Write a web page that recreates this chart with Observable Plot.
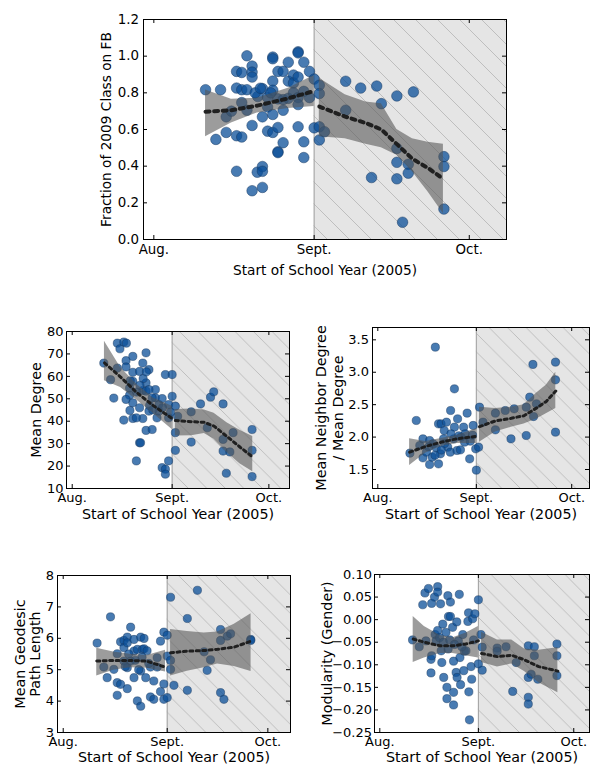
<!DOCTYPE html>
<html><head><meta charset="utf-8">
<script src="https://cdn.jsdelivr.net/npm/d3@7"></script>
<script src="https://cdn.jsdelivr.net/npm/@observablehq/plot@0.6"></script>
<style>
body{margin:0;background:#fff;}
#root{position:relative;width:590px;height:767px;overflow:hidden;background:#fff;}
.panel{position:absolute;}
.panel svg{max-width:none;display:block;}
</style></head><body><div id="root"></div>
<script>
// ---- shared axis data ----
const monthTicks = [0, 31, 61];            // days since Aug 1, 2005
const monthLabels = ["Aug.", "Sept.", "Oct."];
const schoolStart = 31;                    // Sept 1
const xTitle = "Start of School Year (2005)";

// ---- Panel 1: Fraction of 2009 class on FB ----
const fbTitle = "Fraction of 2009 Class on FB";
const fbTicks = [0, 0.2, 0.4, 0.6, 0.8, 1.0, 1.2];
const fbPoints = [[10.0,0.817],[12.9,0.817],[12.0,0.546],[14.0,0.584],[14.0,0.669],[15.0,0.70],[16.0,0.917],[17.0,0.911],[16.0,0.826],[17.0,0.817],[16.0,0.566],[17.0,0.559],[16.0,0.372],[17.0,0.747],[18.0,1.002],[18.0,0.817],[18.0,0.705],[19.0,0.946],[19.0,0.913],[19.0,0.886],[19.0,0.622],[19.0,0.266],[20.1,0.78],[20.0,0.367],[21.0,0.398],[21.0,0.372],[21.0,0.284],[21.0,0.823],[21.0,0.669],[22.0,0.591],[22.0,0.723],[22.0,0.774],[23.0,0.995],[23.0,0.986],[23.0,0.864],[23.0,0.814],[23.0,0.682],[23.0,0.584],[24.0,0.917],[24.0,0.611],[24.0,0.479],[24.0,0.474],[24.0,0.767],[25.0,0.917],[25.0,0.763],[25.0,0.705],[25.0,0.528],[26.0,0.967],[26.0,0.864],[26.0,0.770],[27.0,0.897],[27.0,0.854],[27.0,0.80],[27.9,1.024],[27.9,1.018],[27.9,0.886],[27.9,0.774],[27.9,0.736],[27.9,0.615],[29.0,0.967],[29.0,0.808],[29.0,0.533],[29.0,0.447],[30.1,0.917],[30.1,0.774],[31.0,0.875],[31.0,0.609],[32.0,0.841],[32.0,0.796],[32.0,0.615],[32.0,0.543],[33.0,0.588],[37.1,0.863],[37.1,0.705],[40.0,0.826],[43.1,0.837],[44.0,0.741],[42.1,0.338],[47.0,0.783],[47.0,0.497],[47.0,0.421],[47.0,0.331],[48.1,0.094],[49.2,0.410],[49.2,0.362],[50.2,0.805],[56.1,0.452],[56.1,0.398],[56.1,0.166],[19.6,0.80],[22.6,0.80],[20.6,0.825]];
const fbTrendSeg  = [0,0,0,0,0, 1,1,1,1,1,1,1,1];
const fbTrendDay  = [10,15,20,26,31, 32,37,41,44,47,50,53,56];
const fbTrendMean = [0.697,0.705,0.73,0.77,0.81, 0.725,0.67,0.635,0.60,0.52,0.44,0.39,0.33];
const fbTrendLo   = [0.56,0.635,0.69,0.715,0.725, 0.56,0.55,0.52,0.50,0.46,0.37,0.26,0.14];
const fbTrendHi   = [0.815,0.765,0.77,0.825,0.895, 0.88,0.79,0.75,0.74,0.60,0.55,0.53,0.52];

// ---- Panel 2: Mean Degree ----
const degTitle = "Mean Degree";
const degTicks = [10, 20, 30, 40, 50, 60, 70, 80];
const degPoints = [[9.8,65.9],[11.9,58.5],[12.9,50.3],[14.0,74.8],[14.8,72.3],[16.0,75.3],[16.8,74.8],[14.0,63.7],[16.0,40.5],[16.7,67.0],[16.7,64.2],[17.8,54.8],[17.8,51.6],[16.7,49.7],[17.9,44.8],[18.8,68.9],[18.8,61.8],[18.8,57.8],[18.8,48.2],[18.8,41.2],[19.9,22.3],[20.9,62.2],[20.9,30.4],[21.2,30.4],[20.9,46.0],[21.9,65.9],[21.9,53.7],[21.9,41.2],[22.9,70.5],[22.9,57.1],[22.9,53.4],[22.9,35.9],[23.8,63.0],[23.8,44.5],[24.8,36.3],[25.8,54.1],[25.8,50.4],[26.3,41.5],[26.9,47.4],[26.9,44.5],[27.9,50.1],[27.9,19.3],[28.9,18.6],[28.9,16.4],[28.9,60.8],[29.9,22.3],[29.9,47.4],[29.9,41.5],[31.0,60.8],[31.0,51.1],[32.0,46.7],[32.0,34.9],[32.0,27.0],[32.7,42.2],[36.9,44.2],[36.9,30.7],[39.8,47.7],[41.9,37.1],[42.9,50.7],[43.9,53.1],[46.8,47.7],[46.8,31.9],[46.8,26.7],[47.8,16.8],[48.9,26.3],[49.9,34.9],[55.8,36.3],[55.8,27.0],[55.8,15.3],[19.9,41.5],[23.8,54.1],[24.8,50.4],[22.0,59.0],[24.0,47.0],[20.0,53.0],[25.0,45.0],[23.0,62.0],[28.0,46.0],[30.5,44.0],[18.0,58.0],[21.0,56.0]];
const degTrendSeg  = [0,0,0,0,0, 1,1,1,1,1,1,1];
const degTrendDay  = [10,15,20,25,31, 32,37,41,44,48,52,56];
const degTrendMean = [66,59.7,52.8,47.1,41.2, 40.3,39.8,39.5,37.8,33.2,28.5,24];
const degTrendLo   = [58,55,49.5,43.5,36.3, 33.4,33.5,34.5,32,26,21,17.5];
const degTrendHi   = [75.6,64,56.5,50.5,46.7, 45.2,45.5,45,43.5,39.3,36,33.2];

// ---- Panel 3: Mean neighbor degree / mean degree ----
const ratioTitle = "Mean Neighbor Degree\n/ Mean Degree";
const ratioTicks = [1.5, 2.0, 2.5, 3.0, 3.5];
const ratioPoints = [[10.1,1.752],[12.1,2.256],[13.2,1.870],[14.2,1.973],[14.2,1.680],[15.3,1.767],[16.3,1.577],[16.3,1.947],[17.1,1.690],[17.4,1.896],[18.1,3.387],[18.4,1.834],[19.1,2.204],[19.1,1.587],[19.7,1.742],[19.9,2.204],[20.7,1.973],[20.9,2.101],[21.6,2.230],[22.0,1.844],[22.8,1.767],[22.9,2.41],[23.9,1.973],[24.1,2.744],[24.1,2.153],[24.9,1.793],[25.1,2.281],[26.0,1.803],[26.2,1.999],[27.0,2.153],[27.3,1.922],[28.1,2.369],[28.9,1.664],[29.1,1.937],[30.0,2.179],[30.8,1.819],[31.0,1.490],[31.7,1.845],[32.0,2.461],[33.1,2.230],[37.0,2.369],[37.0,2.112],[40.1,2.410],[41.9,1.973],[42.9,2.436],[46.7,2.024],[46.7,2.461],[47.8,2.616],[48.8,3.120],[49.0,2.317],[49.9,2.513],[55.9,3.156],[55.9,2.883],[55.9,2.076],[16.0,1.85],[18.0,1.72],[21.0,1.90],[23.0,2.05],[25.5,2.02],[27.5,2.05],[20.0,1.80],[29.8,2.03]];
const ratioTrendSeg  = [0,0,0,0,0, 1,1,1,1,1,1,1];
const ratioTrendDay  = [10,15,20,25,31, 32,37,42,46,50,53,56];
const ratioTrendMean = [1.767,1.855,1.922,1.975,2.01, 2.16,2.25,2.29,2.33,2.45,2.55,2.71];
const ratioTrendLo   = [1.56,1.75,1.86,1.90,1.90, 1.92,2.08,2.15,2.20,2.28,2.36,2.44];
const ratioTrendHi   = [1.975,1.93,1.98,2.03,2.13, 2.46,2.44,2.46,2.50,2.68,2.80,3.00];

// ---- Panel 4: Mean geodesic path length ----
const pathTitle = "Mean Geodesic\nPath Length";
const pathTicks = [3, 4, 5, 6, 7, 8];
const pathPoints = [[10.1,5.847],[12.1,5.085],[13.1,4.746],[14.1,6.683],[15.1,5.011],[16.1,5.508],[16.1,4.587],[16.1,4.185],[17.1,5.889],[17.1,4.534],[18.1,5.931],[18.1,5.7],[18.1,5.275],[19.1,6.037],[19.1,5.857],[19.1,4.397],[19.1,5.064],[20.1,6.354],[20.1,5.275],[21.1,5.963],[21.1,5.593],[21.1,4.746],[22.1,4.005],[22.1,5.646],[23.1,3.836],[23.1,4.958],[23.1,6.037],[23.6,5.646],[24.1,5.995],[24.1,5.667],[24.6,4.746],[25.0,5.603],[26.0,4.132],[26.0,5.085],[27.0,4.058],[27.0,4.640],[28.0,5.381],[28.0,5.085],[29.0,5.910],[29.0,4.302],[30.0,6.196],[30.0,4.545],[30.0,4.058],[31.0,6.100],[31.0,4.111],[31.0,5.434],[32.0,7.307],[32.0,5.296],[32.0,5.011],[33.0,4.503],[37.0,6.630],[37.0,4.344],[40.0,7.529],[42.0,5.572],[42.9,4.979],[43.9,5.317],[46.9,6.280],[46.9,5.931],[46.9,4.270],[47.9,4.058],[48.9,6.069],[49.9,6.143],[55.9,5.963],[55.9,5.931],[19.5,5.5],[21.5,5.3],[23.5,5.4],[25.5,5.2],[18.5,5.1],[22.5,5.0]];
const pathTrendSeg  = [0,0,0,0,0, 1,1,1,1,1,1];
const pathTrendDay  = [10,15,20,25,30.5, 32,37,42,46,51,56];
const pathTrendMean = [5.275,5.296,5.296,5.27,5.08, 5.54,5.59,5.61,5.65,5.72,5.91];
const pathTrendLo   = [4.80,4.98,5.06,5.05,4.93, 4.80,4.95,5.06,5.18,5.10,4.94];
const pathTrendHi   = [5.68,5.56,5.49,5.45,5.62, 6.28,6.22,6.17,6.20,6.45,6.78];

// ---- Panel 5: Modularity (gender) ----
const modTitle = "Modularity (Gender)";
const modTicks = [-0.25, -0.20, -0.15, -0.10, -0.05, 0.00, 0.05, 0.10];
const modPoints = [[10.3,-0.045],[12.4,-0.060],[13.5,0.033],[14.2,0.059],[14.5,-0.047],[15.3,0.069],[16.1,-0.088],[16.1,-0.118],[16.3,0.036],[16.3,-0.080],[17.2,0.050],[17.4,-0.033],[17.7,-0.047],[18.2,0.073],[18.2,0.061],[18.2,-0.024],[19.1,0.035],[19.3,-0.069],[19.5,-0.095],[20.1,-0.128],[20.8,-0.028],[21.1,-0.150],[21.1,-0.175],[21.4,0.053],[21.6,0.007],[22.2,0.007],[22.2,0.039],[22.9,-0.017],[23.2,-0.092],[23.2,-0.161],[23.2,-0.189],[24.0,-0.117],[24.3,-0.128],[24.7,-0.047],[25.0,0.056],[25.2,-0.084],[25.4,-0.144],[26.1,-0.033],[26.4,-0.113],[26.6,-0.070],[27.1,-0.069],[27.7,-0.004],[27.9,0.015],[28.0,-0.160],[28.2,-0.222],[28.7,-0.104],[28.9,-0.132],[29.2,0.002],[29.9,0.013],[31.0,0.044],[31.0,-0.098],[31.8,-0.033],[32.2,-0.061],[32.2,-0.112],[36.9,-0.063],[36.9,-0.070],[39.7,-0.060],[41.8,-0.159],[42.9,-0.095],[46.7,-0.058],[46.7,-0.128],[46.7,-0.172],[46.7,-0.187],[47.6,-0.121],[48.6,-0.060],[48.6,-0.080],[49.7,-0.132],[55.7,-0.054],[55.7,-0.080],[55.7,-0.124],[18.8,-0.040],[20.0,-0.050],[22.0,-0.045],[23.5,-0.055],[25.8,-0.060],[19.8,-0.010],[24.2,-0.005],[29.5,-0.045],[21.5,-0.065]];
const modTrendSeg  = [0,0,0,0,0,0, 1,1,1,1,1,1];
const modTrendDay  = [10.5,14,19,23,27,31, 32,37,41.5,45.5,50,56];
const modTrendMean = [-0.043,-0.050,-0.058,-0.058,-0.054,-0.047, -0.075,-0.082,-0.079,-0.089,-0.104,-0.114];
const modTrendLo   = [-0.095,-0.085,-0.075,-0.075,-0.080,-0.085, -0.095,-0.105,-0.098,-0.115,-0.140,-0.162];
const modTrendHi   = [0.007,-0.015,-0.035,-0.040,-0.030,-0.015, -0.028,-0.045,-0.045,-0.065,-0.068,-0.062];

// ---- build ----
const root = document.getElementById("root");
const NS = "http://www.w3.org/2000/svg";

function makePanel(c) {
  const fw = c.R - c.L, fh = c.B - c.T;
  const width = fw + c.ml + c.mr, height = fh + c.mt + c.mb;
  const pts = c.points.map(([d, v]) => ({d, v}));
  const trend = c.trendDay.map((d, i) => ({d, seg: c.trendSeg[i], mean: c.trendMean[i], lo: c.trendLo[i], hi: c.trendHi[i]}));
  const shade = [{x1: schoolStart, x2: c.xDomain[1]}];
  const hatchId = "hatch-" + c.id;
  const svg = Plot.plot({
    width, height,
    marginLeft: c.ml, marginRight: c.mr, marginTop: c.mt, marginBottom: c.mb,
    style: {fontFamily: "'DejaVu Sans', sans-serif", fontSize: c.tickFont + "px", color: "#000", background: "transparent", overflow: "visible"},
    x: {domain: c.xDomain},
    y: {domain: c.yDomain},
    marks: [
      Plot.rect(shade, {x1: "x1", x2: "x2", fill: "#e5e5e5"}),
      Plot.rect(shade, {x1: "x1", x2: "x2", fill: `url(#${hatchId})`}),
      Plot.ruleX([schoolStart], {stroke: "#a0a0a0", strokeWidth: 1}),
      Plot.dot(pts, {x: "d", y: "v", r: c.r, fill: "#0b4f98", fillOpacity: 0.75, stroke: "#15375e", strokeOpacity: 0.6, strokeWidth: 0.8}),
      Plot.areaY(trend, {x: "d", y1: "lo", y2: "hi", z: "seg", fill: "#555", fillOpacity: 0.58}),
      Plot.line(trend, {x: "d", y: "mean", z: "seg", stroke: "#1a1a1a", strokeOpacity: 0.95, strokeWidth: c.lw, strokeDasharray: `${c.lw},${c.lw * 1.15}`}),
      Plot.frame({stroke: "#000", strokeWidth: 1}),
      Plot.tickX(monthTicks, {x: d => d, insetTop: fh - 4, stroke: "#000"}),
      Plot.tickX(monthTicks, {x: d => d, insetBottom: fh - 4, stroke: "#000"}),
      Plot.tickY(c.yTicks, {y: d => d, insetRight: fw - 4, stroke: "#000"}),
      Plot.tickY(c.yTicks, {y: d => d, insetLeft: fw - 4, stroke: "#000"}),
      Plot.axisX(monthTicks, {tickSize: 0, tickPadding: c.xPad, tickFormat: d => monthLabels[monthTicks.indexOf(d)], label: null, fontSize: c.tickFont}),
      Plot.axisY(c.yTicks, {tickSize: 0, tickPadding: c.yPad, tickFormat: c.fmt, label: null, fontSize: c.tickFont}),
      Plot.text([xTitle], {frameAnchor: "bottom", dy: c.xTitleDy, text: d => d, lineAnchor: "middle", fontSize: c.titleFont}),
      Plot.text([c.yTitle], {frameAnchor: "left", dx: c.yTitleDx, text: d => d, rotate: -90, lineAnchor: "middle", textAnchor: "middle", fontSize: c.titleFont, lineHeight: c.lh})
    ]
  });
  // hatch pattern definition
  const defs = document.createElementNS(NS, "defs");
  const pat = document.createElementNS(NS, "pattern");
  const s = c.hatch;
  pat.setAttribute("id", hatchId);
  pat.setAttribute("patternUnits", "userSpaceOnUse");
  pat.setAttribute("width", s);
  pat.setAttribute("height", s);
  const path = document.createElementNS(NS, "path");
  path.setAttribute("d", `M-1,${s - 1}l2,2M0,0L${s},${s}M${s - 1},-1l2,2`);
  path.setAttribute("stroke", "#b4b4b4");
  path.setAttribute("stroke-width", "0.8");
  path.setAttribute("fill", "none");
  pat.appendChild(path);
  defs.appendChild(pat);
  svg.insertBefore(defs, svg.firstChild);

  const div = document.createElement("div");
  div.className = "panel";
  div.style.left = (c.L - c.ml) + "px";
  div.style.top = (c.T - c.mt) + "px";
  div.appendChild(svg);
  root.appendChild(div);
}

const f1 = d3.format(".1f"), fd = d3.format("d"), f2 = d3.format(".2f");

makePanel({id: "fb", L: 143, T: 19, R: 506, B: 239, ml: 143, mr: 84, mt: 19, mb: 51,
  xDomain: [-2.0, 68.2], yDomain: [0, 1.2], yTicks: fbTicks, fmt: f1,
  points: fbPoints, trendSeg: fbTrendSeg, trendDay: fbTrendDay, trendMean: fbTrendMean, trendLo: fbTrendLo, trendHi: fbTrendHi,
  r: 5.3, lw: 4, hatch: 22, tickFont: 13.4, titleFont: 13.7, xPad: 4.5, yPad: 4.5, xTitleDy: 31, yTitleDx: -37, lh: 1, yTitle: fbTitle});

makePanel({id: "deg", L: 66, T: 331, R: 289, B: 488, ml: 66, mr: 6, mt: 31, mb: 42,
  xDomain: [-1.77, 67.4], yDomain: [10, 80], yTicks: degTicks, fmt: fd,
  points: degPoints, trendSeg: degTrendSeg, trendDay: degTrendDay, trendMean: degTrendMean, trendLo: degTrendLo, trendHi: degTrendHi,
  r: 4.1, lw: 3, hatch: 18.5, tickFont: 13, titleFont: 14.3, xPad: 4, yPad: 3, xTitleDy: 26, yTitleDx: -30, lh: 1, yTitle: degTitle});

makePanel({id: "ratio", L: 372, T: 327, R: 589, B: 488, ml: 77, mr: 1, mt: 27, mb: 42,
  xDomain: [-1.67, 66.6], yDomain: [1.207, 3.69], yTicks: ratioTicks, fmt: f1,
  points: ratioPoints, trendSeg: ratioTrendSeg, trendDay: ratioTrendDay, trendMean: ratioTrendMean, trendLo: ratioTrendLo, trendHi: ratioTrendHi,
  r: 4.1, lw: 3, hatch: 18.5, tickFont: 13, titleFont: 14.3, xPad: 4, yPad: 3.5, xTitleDy: 26, yTitleDx: -43.6, lh: 1.17, yTitle: ratioTitle});

makePanel({id: "path", L: 57, T: 575, R: 290, B: 732, ml: 57, mr: 5, mt: 30, mb: 35,
  xDomain: [-1.7, 67.75], yDomain: [3, 8], yTicks: pathTicks, fmt: fd,
  points: pathPoints, trendSeg: pathTrendSeg, trendDay: pathTrendDay, trendMean: pathTrendMean, trendLo: pathTrendLo, trendHi: pathTrendHi,
  r: 4.1, lw: 3, hatch: 18.5, tickFont: 13, titleFont: 14.3, xPad: 4, yPad: 3.5, xTitleDy: 25, yTitleDx: -29.5, lh: 1.05, yTitle: pathTitle});

makePanel({id: "mod", L: 374, T: 574, R: 589, B: 732, ml: 79, mr: 1, mt: 29, mb: 35,
  xDomain: [-1.67, 65.95], yDomain: [-0.25, 0.10], yTicks: modTicks, fmt: f2,
  points: modPoints, trendSeg: modTrendSeg, trendDay: modTrendDay, trendMean: modTrendMean, trendLo: modTrendLo, trendHi: modTrendHi,
  r: 4.1, lw: 3, hatch: 18.5, tickFont: 13, titleFont: 14.3, xPad: 4, yPad: 2.5, xTitleDy: 25, yTitleDx: -47, lh: 1, yTitle: modTitle});
</script></body></html>
